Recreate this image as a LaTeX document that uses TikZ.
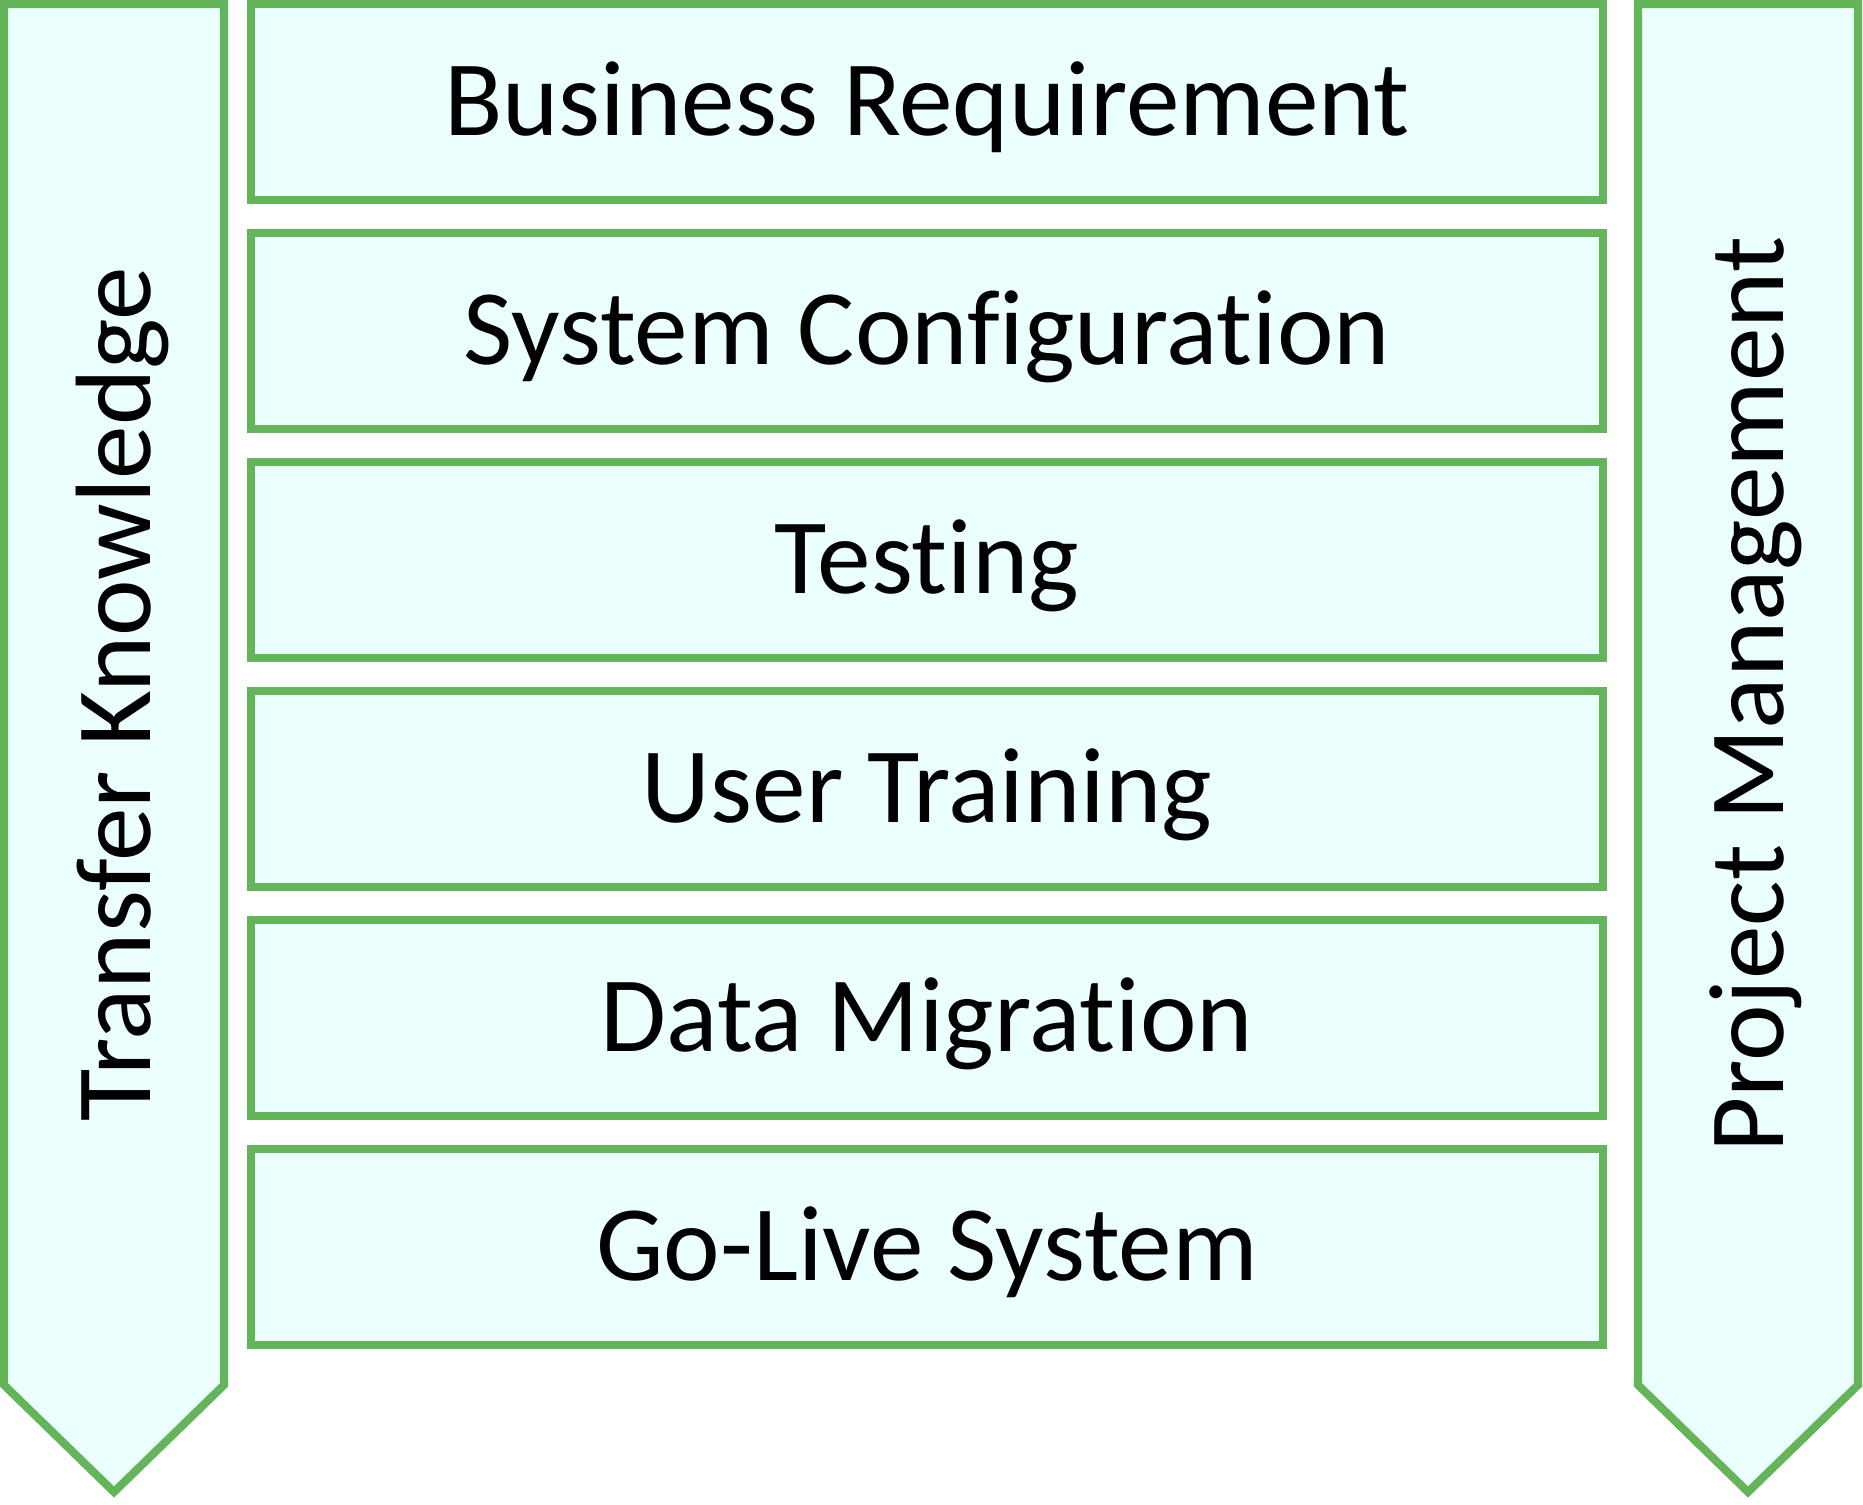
\documentclass[tikz,border=0pt]{standalone}
\usepackage{fontspec}
\setmainfont[Ligatures=NoCommon]{Carlito}
\usepackage{tikz}
\usepackage{tkz-euclide}

\definecolor{phasegreen}{RGB}{100,180,90}
\definecolor{phasefill}{RGB}{235,255,255}

\tikzset{
  pentagon/.style={draw=phasegreen, fill=phasefill, line width=2.3pt, line join=miter},
  phasebox/.style={draw=phasegreen, fill=phasefill, line width=2.3pt,
    minimum width=13.52cm, minimum height=1.96cm, inner sep=0pt,
    font=\fontsize{30.5}{36}\selectfont, text height=19.3pt, text depth=0pt},
  sidelabel/.style={rotate=90, inner sep=0pt,
    font=\fontsize{30.5}{36}\selectfont, text height=19.3pt, text depth=0pt}
}

\begin{document}
\begin{tikzpicture}[scale=1.0]
  \useasboundingbox (0,0) rectangle (18.63,15.04);

  % left arrow
  \tkzDefPoints{0.04/15.00/L1, 2.24/15.00/L2, 2.24/1.19/L3, 1.14/0.12/L4, 0.04/1.19/L5}
  \tkzDrawPolygon[pentagon](L1,L2,L3,L4,L5)
  \node[sidelabel] (transfer) at (1.17,8.10) {Transfer Knowledge};

  % right arrow
  \tkzDefPoints{16.38/15.00/R1, 18.58/15.00/R2, 18.58/1.19/R3, 17.48/0.12/R4, 16.38/1.19/R5}
  \tkzDrawPolygon[pentagon](R1,R2,R3,R4,R5)
  \node[sidelabel] (project) at (17.50,8.09) {Project Management};

  % phases
  \node[phasebox] (business) at (9.27,14.02) {Business Requirement};
  \node[phasebox] (config)   at (9.27,11.73) {System Configuration};
  \node[phasebox] (testing)  at (9.27,9.44)  {Testing};
  \node[phasebox] (training) at (9.27,7.15)  {User Training};
  \node[phasebox] (migration) at (9.27,4.86) {Data Migration};
  \node[phasebox] (golive)   at (9.27,2.57)  {Go-Live System};

\end{tikzpicture}
\end{document}
